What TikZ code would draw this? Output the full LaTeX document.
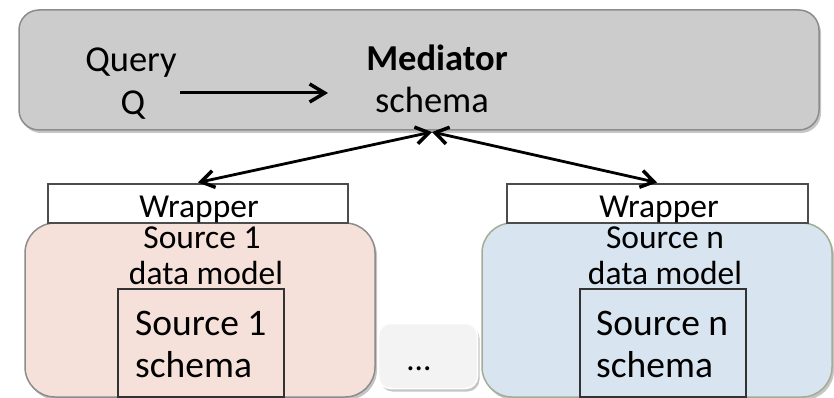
\documentclass[tikz,border=0pt]{standalone}
\usepackage{fontspec}
\setmainfont{Carlito}
\usetikzlibrary{arrows.meta,shadows}
\definecolor{medfill}{HTML}{CCCCCC}
\definecolor{medline}{HTML}{8C8C8C}
\definecolor{onefill}{HTML}{F5E1DA}
\definecolor{nfill}{HTML}{D8E4EF}
\definecolor{nline}{HTML}{A3AD96}
\definecolor{dotfill}{HTML}{F3F3F3}
\begin{document}
\begin{tikzpicture}[x=1pt,y=-1pt,
  every node/.style={inner sep=0pt,anchor=base},
  top/.style={font=\fontsize{36.5}{40}\selectfont},
  mid/.style={font=\fontsize{33.5}{38}\selectfont},
  inner/.style={font=\fontsize{37.5}{42}\selectfont,anchor=base west},
  bigbox/.style={rectangle,anchor=center,draw=medline,line width=1.5pt,
    drop shadow={shadow xshift=2pt,shadow yshift=-3pt,fill=black!45}},
  wrapbox/.style={rectangle,anchor=center,draw=black!70,line width=2pt,fill=white,
    minimum width=300pt,minimum height=39pt},
  schemabox/.style={rectangle,anchor=center,draw=black!80,line width=1.5pt,
    minimum width=166pt,minimum height=108pt},
  flow/.style={line width=3pt,-{Straight Barb[length=15pt,width=18pt,line width=3.5pt]}},
  both/.style={line width=2.8pt,{Straight Barb[length=13pt,width=17pt,line width=3.5pt]}-{Straight Barb[length=13pt,width=17pt,line width=3.5pt]}}]
\useasboundingbox (0,0) rectangle (834,398);

% mediator
\node[bigbox,fill=medfill,rounded corners=20pt,minimum width=800pt,minimum height=120pt] (med) at (419,70) {};
\node[top] (query) at (131,72) {Query};
\node[top] (q) at (133,115) {Q};
\node[top] (medname) at (437,71) {\textbf{Mediator}};
\node[top] (medschema) at (432,113) {schema};
\coordinate (qfrom) at (180,93);
\coordinate (qto) at (328,93);
\draw[flow] (qfrom) -- (qto);

% sources
\node[bigbox,fill=onefill,rounded corners=30pt,minimum width=350pt,minimum height=174pt] (src1) at (200,310) {};
\node[bigbox,fill=nfill,draw=nline,rounded corners=30pt,minimum width=350pt,minimum height=174pt] (srcn) at (657,310) {};
\node[bigbox,fill=dotfill,draw=white,rounded corners=12pt,minimum width=99pt,minimum height=65pt] (dots) at (428,356) {};
\node[mid] (dotstxt) at (419,370) {\dots};

\node[wrapbox] (wrap1) at (198,203) {};
\node[wrapbox,minimum width=301pt] (wrapn) at (657,203) {};
\node[mid] (wrap1txt) at (199,217) {Wrapper};
\node[mid] (wrapntxt) at (659,217) {Wrapper};

\node[mid] (src1name) at (202,248) {Source 1};
\node[mid] (src1model) at (206,284) {data model};
\node[mid] (srcnname) at (665,248) {Source n};
\node[mid] (srcnmodel) at (665,284) {data model};

\node[schemabox] (schema1) at (201,343) {};
\node[schemabox] (scheman) at (663,343) {};
\node[inner] (s1name) at (135,335) {Source 1};
\node[inner] (s1schema) at (135,377) {schema};
\node[inner] (snname) at (596,335) {Source n};
\node[inner] (snschema) at (596,377) {schema};

% wrappers to mediator
\coordinate (medtip) at (432,132);
\draw[both] (wrap1.north) -- (medtip);
\draw[both] (medtip) -- (wrapn.north);
\end{tikzpicture}
\end{document}
